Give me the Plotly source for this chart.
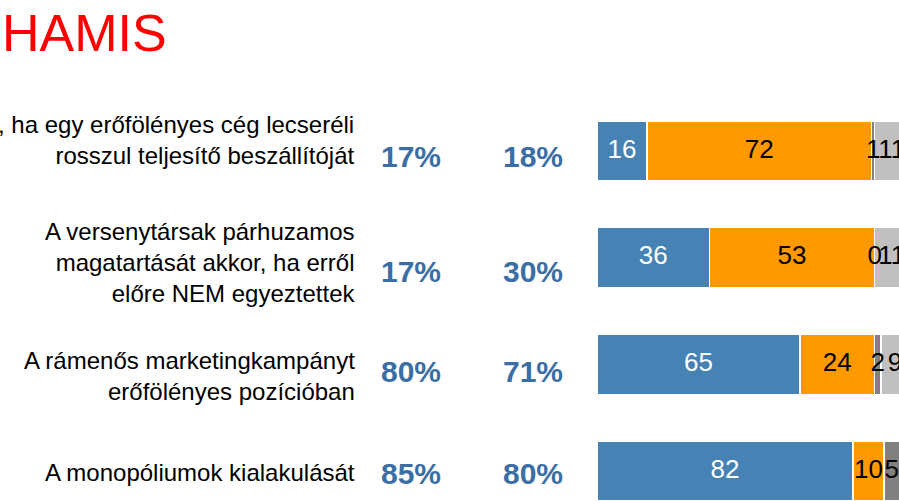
import plotly.graph_objects as go

# ---- data ----
statements = [
    ", ha egy erőfölényes cég lecseréli<br>rosszul teljesítő beszállítóját",
    "A versenytársak párhuzamos<br>magatartását akkor, ha erről<br>előre NEM egyeztettek",
    "A rámenős marketingkampányt<br>erőfölényes pozícióban",
    "A monopóliumok kialakulását",
]
pct_col1 = ["17%", "17%", "80%", "85%"]
pct_col2 = ["18%", "30%", "71%", "80%"]
series_names = ["1", "2", "3", "4"]
s1 = [16, 36, 65, 82]
s2 = [72, 53, 24, 10]
s3 = [1, 0, 2, 5]
s4 = [11, 11, 9, 3]
title_text = "HAMIS"

# ---- style ----
colors = ["#4682B4", "#FF9900", "#808080", "#C0C0C0"]
text_colors = ["white", "black", "black", "black"]
FONT = "Liberation Sans, Arial, sans-serif"
W, H = 899, 501
px_per_unit = 3.12
x0_px = 597
row0_px = 151
row_step = 106.67
bar_px = 60

x_range = [-x0_px / px_per_unit, (W - x0_px) / px_per_unit]
y_range = [3 + (H - (row0_px + 3 * row_step)) / row_step, -row0_px / row_step]

fig = go.Figure()
all_series = [s1, s2, s3, s4]
for name, vals, col in zip(series_names, all_series, colors):
    fig.add_trace(go.Bar(
        y=statements, x=vals, name=name, orientation="h",
        marker=dict(color=col, line=dict(color="white", width=1.5)),
        width=bar_px / row_step, showlegend=False, hoverinfo="skip",
    ))

# segment labels at segment midpoints
cum = [0] * len(statements)
for vals, tc in zip(all_series, text_colors):
    mids = [c + v / 2 for c, v in zip(cum, vals)]
    cum = [c + v for c, v in zip(cum, vals)]
    fig.add_trace(go.Scatter(
        y=statements, x=mids, mode="text", text=[str(v) for v in vals],
        textfont=dict(family=FONT, size=26, color=tc),
        textposition="middle center", showlegend=False, hoverinfo="skip",
        cliponaxis=False,
    ))

label_shift = [11, -5, -12, -1]
pct_shift = [-5, -14, -7, -2]
label_x = (357 - x0_px) / px_per_unit
col1_x = (411 - x0_px) / px_per_unit
col2_x = (533 - x0_px) / px_per_unit

annotations = []
for i, st in enumerate(statements):
    annotations.append(dict(
        x=label_x, y=st, xref="x", yref="y", text=st, showarrow=False,
        xanchor="right", yanchor="middle", align="right", yshift=label_shift[i],
        font=dict(family=FONT, size=24, color="black"),
    ))
    annotations.append(dict(
        x=col1_x, y=st, xref="x", yref="y", text="<b>%s</b>" % pct_col1[i],
        showarrow=False, xanchor="center", yanchor="middle", yshift=pct_shift[i],
        font=dict(family=FONT, size=30, color="#3A6EA5"),
    ))
    annotations.append(dict(
        x=col2_x, y=st, xref="x", yref="y", text="<b>%s</b>" % pct_col2[i],
        showarrow=False, xanchor="center", yanchor="middle", yshift=pct_shift[i],
        font=dict(family=FONT, size=30, color="#3A6EA5"),
    ))

annotations.append(dict(
    x=0, y=1 - 33 / H, xref="paper", yref="paper", text=title_text,
    showarrow=False, xanchor="left", yanchor="middle",
    font=dict(family=FONT, size=52, color="#FF0000"),
))

fig.update_layout(
    width=W, height=H, barmode="stack",
    margin=dict(l=0, r=0, t=0, b=0),
    paper_bgcolor="white", plot_bgcolor="white",
    xaxis=dict(range=x_range, visible=False, fixedrange=True),
    yaxis=dict(type="category", categoryorder="array", categoryarray=statements,
               range=y_range, visible=False, fixedrange=True),
    annotations=annotations,
)

fig.write_html(
    "out.html",
    config={"displayModeBar": False},
    post_script="document.body.style.margin='0';document.body.style.overflow='hidden';",
)
